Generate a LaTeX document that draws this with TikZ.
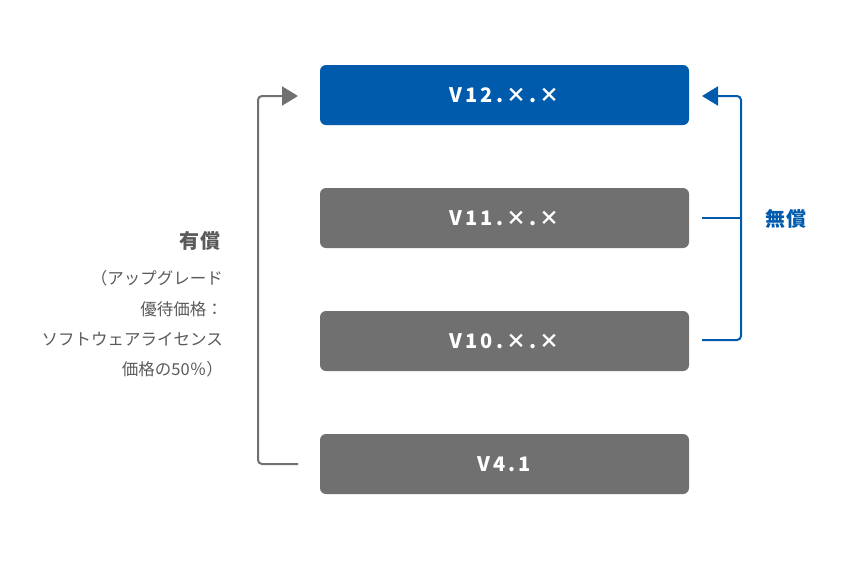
\documentclass[tikz,border=0pt]{standalone}
\usepackage{fontspec}
\setmainfont{Noto Sans CJK JP}
\newfontfamily\verfont[LetterSpace=15]{Noto Sans CJK JP}
\newfontfamily\labelfont[LetterSpace=8]{Noto Sans CJK JP}
\usetikzlibrary{arrows.meta}
\definecolor{verBlue}{RGB}{0,91,172}
\definecolor{verGray}{RGB}{112,112,112}
\definecolor{noteGray}{RGB}{90,90,90}
\begin{document}
\begin{tikzpicture}
[x=1pt,y=-1pt,
  boxDecorate/.style={rounded corners=6pt,minimum width=369pt,minimum height=60pt,
    inner sep=0pt,text=white,font=\verfont\bfseries\fontsize{20}{20}\selectfont},%
  paidLine/.style={draw=verGray,line width=2pt,rounded corners=4pt,
    -{Triangle[length=16pt,width=19pt]}},%
  freeLine/.style={draw=verBlue,line width=2pt,rounded corners=4pt}]
\useasboundingbox (0,0) rectangle (852,560);
%% version boxes
\foreach \nodename/\y/\col/\txt in {
  v12/95/verBlue/V12.×.×, v11/218/verGray/V11.×.×,
  v10/341/verGray/V10.×.×, v41/464/verGray/V4.1}
{
  \node (\nodename) at (504.5,\y) [boxDecorate,fill=\col] {\txt};
}
%% paid upgrade (left)
\coordinate (pIn) at (298,464);
\coordinate (pOut) at (298,96);
\draw[paidLine] (pIn) -- (258,464) -- (258,96) -- (pOut);
\node (paid) at (221,241) [anchor=east,text=noteGray,inner sep=0pt,
  font=\labelfont\bfseries\fontsize{20}{20}\selectfont] {有償};
\node (paidNote) at (223,324) [anchor=east,align=right,text=noteGray,inner sep=0pt,
  font=\fontsize{16.5}{30.3}\selectfont]
  {（アップグレード\\優待価格：\\ソフトウェアライセンス\\価格の50％）};
%% free upgrade (right)
\coordinate (fIn) at (702,340);
\coordinate (fMid) at (702,218);
\coordinate (fOut) at (702,96);
\draw[freeLine,-{Triangle[length=16pt,width=19pt]}]
  (fIn) -- (741,340) -- (741,96) -- (fOut);
\draw[freeLine] (fMid) -- (741,218);
\node (free) at (765,219) [anchor=west,text=verBlue,inner sep=0pt,
  font=\labelfont\bfseries\fontsize{20}{20}\selectfont] {無償};
\end{tikzpicture}
\end{document}
